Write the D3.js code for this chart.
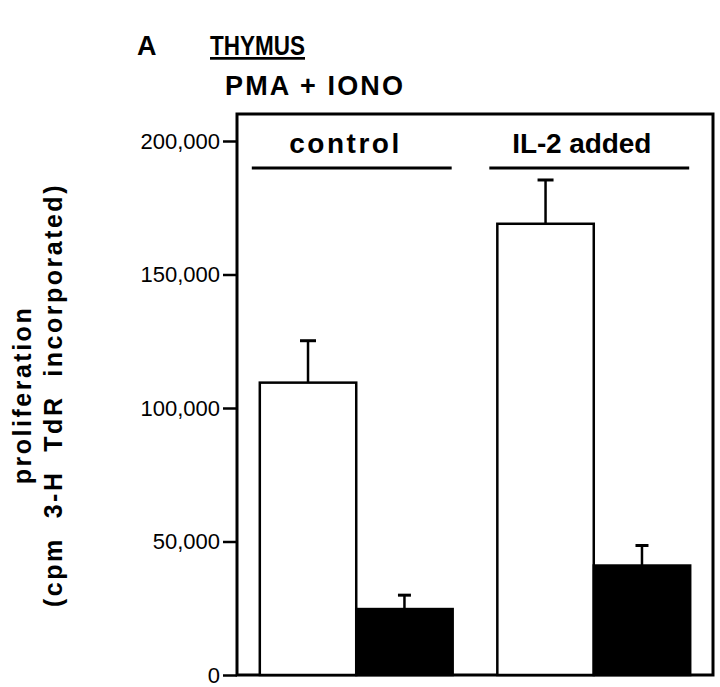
<!DOCTYPE html>
<html>
<head>
<meta charset="utf-8">
<script src="https://cdn.jsdelivr.net/npm/d3@7"></script>
<style>
  body { margin: 0; background: #fff; }
  text { font-family: "Liberation Sans", Arial, sans-serif; fill: #000; }
</style>
</head>
<body>
<script>
// groups and bars
const groups = ["control", "IL-2 added"];
const series = ["white", "black"];
const means = [[109500, 24700], [169000, 41000]];
const errs = [[15700, 5200], [16400, 7500]];
const yTicks = [0, 50000, 100000, 150000, 200000];

// set the dimensions and margins of the graph
const W = 720, H = 687;
const frame = {left: 237, top: 114, right: 713, bottom: 675};

const svg = d3.select("body").append("svg")
    .attr("width", W)
    .attr("height", H);

// scales
const x = d3.scaleBand().domain(groups)
    .range([frame.left, frame.right])
    .paddingInner(0.188).paddingOuter(0.096);
const xs = d3.scaleBand().domain(series).range([0, x.bandwidth()]);
const y = d3.scaleLinear().domain([0, 200000]).range([frame.bottom, 141]);

// titles
svg.append("text").attr("x", 137).attr("y", 55)
    .style("font-size", "27px").style("font-weight", "bold").text("A");
svg.append("text").attr("x", 210).attr("y", 55)
    .attr("textLength", 95).attr("lengthAdjust", "spacingAndGlyphs")
    .style("font-size", "27px").style("font-weight", "bold")
    .style("text-decoration", "underline").text("THYMUS");
svg.append("text").attr("x", 225).attr("y", 95)
    .attr("textLength", 178).attr("lengthAdjust", "spacing")
    .style("font-size", "27px").style("font-weight", "bold").text("PMA + IONO");

// frame box
svg.append("rect")
    .attr("x", frame.left).attr("y", frame.top)
    .attr("width", frame.right - frame.left)
    .attr("height", frame.bottom - frame.top)
    .attr("fill", "none").attr("stroke", "#000").attr("stroke-width", 3);

// y axis
const yAxis = svg.append("g")
    .attr("transform", "translate(" + frame.left + ",0)")
    .call(d3.axisLeft(y)
        .tickValues(yTicks)
        .tickFormat(d3.format(","))
        .tickSize(14)
        .tickPadding(3));
yAxis.select(".domain").remove();
yAxis.selectAll("line").attr("stroke", "#000").attr("stroke-width", 2.5);
yAxis.selectAll("text")
    .style("font-size", "22px")
    .style("font-family", "Liberation Sans, Arial, sans-serif");

// axis title
const yt = svg.append("text")
    .attr("transform", "translate(0,395) rotate(-90)")
    .attr("text-anchor", "middle")
    .style("font-size", "25px").style("font-weight", "bold")
    .style("letter-spacing", "2.5px");
yt.append("tspan").attr("x", 0).attr("y", 31).text("proliferation");
yt.append("tspan").attr("x", 0).attr("y", 62).attr("xml:space", "preserve")
    .text("(cpm  3-H  TdR  incorporated)");

// group labels and underlines
const g = svg.selectAll(".grp").data(groups).enter().append("g")
    .attr("class", "grp")
    .attr("transform", d => "translate(" + x(d) + ",0)");
g.append("text")
    .attr("x", x.bandwidth() / 2 - 12)
    .attr("y", 153)
    .attr("text-anchor", "middle")
    .attr("textLength", d => d === "control" ? 110 : 139)
    .attr("lengthAdjust", "spacing")
    .style("font-size", "28px").style("font-weight", "bold")
    .text(d => d);
g.append("line")
    .attr("x1", -8).attr("x2", x.bandwidth() - 1)
    .attr("y1", 168).attr("y2", 168)
    .attr("stroke", "#000").attr("stroke-width", 3);

// bars
groups.forEach((grp, i) => {
    series.forEach((s, j) => {
        const bx = x(grp) + xs(s);
        svg.append("rect")
            .attr("x", bx).attr("y", y(means[i][j]))
            .attr("width", xs.bandwidth())
            .attr("height", y(0) - y(means[i][j]))
            .attr("fill", s === "white" ? "#fff" : "#000")
            .attr("stroke", "#000").attr("stroke-width", 2.5);
        // error bar
        const cx = bx + xs.bandwidth() / 2;
        const capW = s === "white" ? 16 : 13;
        svg.append("line")
            .attr("x1", cx).attr("x2", cx)
            .attr("y1", y(means[i][j])).attr("y2", y(means[i][j] + errs[i][j]))
            .attr("stroke", "#000").attr("stroke-width", 2.5);
        svg.append("line")
            .attr("x1", cx - capW / 2).attr("x2", cx + capW / 2)
            .attr("y1", y(means[i][j] + errs[i][j])).attr("y2", y(means[i][j] + errs[i][j]))
            .attr("stroke", "#000").attr("stroke-width", 3);
    });
});
</script>
</body>
</html>
